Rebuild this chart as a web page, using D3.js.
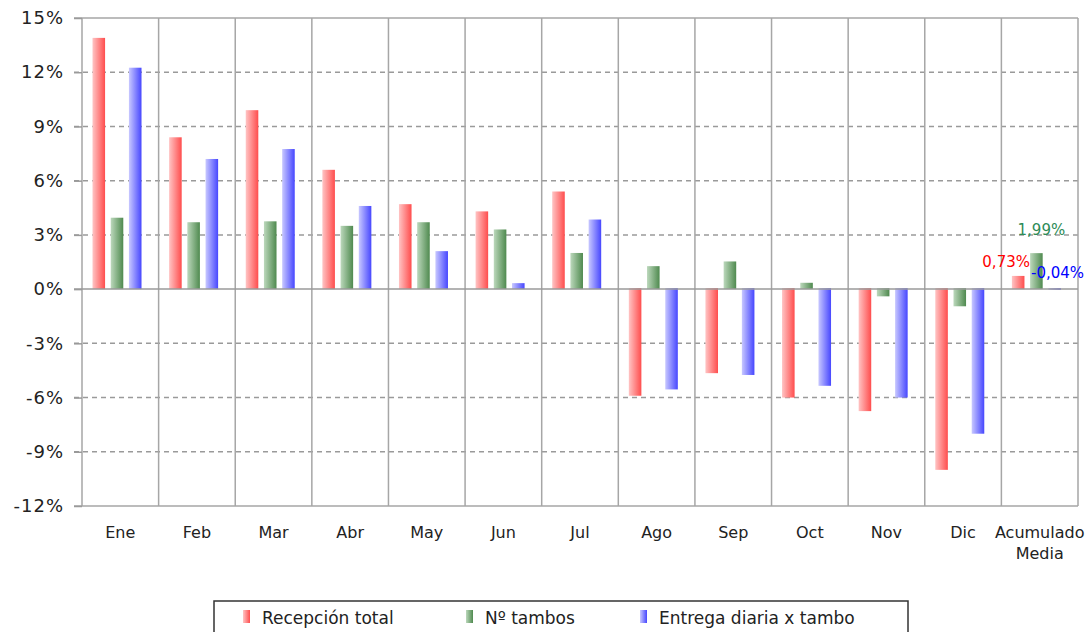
<!DOCTYPE html>
<html lang="es">
  <head>
    <meta charset="utf-8" />
    <script src="https://d3js.org/d3.v7.min.js"></script>
    <style>
      body {
        margin: 0;
        background: #fff;
      }
      text {
        font-family: "DejaVu Sans", Verdana, sans-serif;
        fill: #222;
      }
    </style>
    <title>Variación mensual</title>
  </head>
  <body>
    <svg id="chart" width="1089" height="632"></svg>

    <script>
      // datos (%)
      const months = ["Ene", "Feb", "Mar", "Abr", "May", "Jun", "Jul", "Ago", "Sep", "Oct", "Nov", "Dic", "Acumulado|Media"];
      const series = ["Recepción total", "Nº tambos", "Entrega diaria x tambo"];
      const recepcion = [13.9, 8.4, 9.9, 6.6, 4.7, 4.3, 5.4, -5.9, -4.65, -6.0, -6.75, -10.0, 0.73];
      const tambos = [3.95, 3.7, 3.75, 3.5, 3.7, 3.3, 2.0, 1.27, 1.53, 0.35, -0.4, -0.95, 1.99];
      const entrega = [12.25, 7.2, 7.75, 4.6, 2.1, 0.33, 3.85, -5.55, -4.75, -5.35, -6.0, -8.0, -0.04];
      const yTicks = [-12, -9, -6, -3, 0, 3, 6, 9, 12, 15];
      const acumLabels = ["0,73%", "1,99%", "-0,04%"];

      const colors = [
        { light: "#ffc4c4", dark: "#ff4d4d" },
        { light: "#bcd8bc", dark: "#4f8a4f" },
        { light: "#c8c8ff", dark: "#4747ff" },
      ];
      const labelColors = ["#ff0000", "#2e8b57", "#0000ff"];

      const svg = d3.select("svg#chart");
      const margin = { top: 18, right: 11, bottom: 126, left: 82 };
      const width = 1089;
      const height = 632;

      const values = [recepcion, tambos, entrega];
      const data = months.map((m, i) => ({
        month: m,
        vals: series.map((s, j) => ({ key: s, idx: j, v: values[j][i] })),
      }));

      const x = d3
        .scaleBand()
        .domain(months)
        .range([margin.left, width - margin.right]);

      const x1 = d3
        .scaleBand()
        .domain(series)
        .range([10.5, 59.5])
        .paddingInner(0.31);

      const y = d3
        .scaleLinear()
        .domain([-12, 15])
        .range([height - margin.bottom, margin.top]);

      // gradientes de las barras
      const defs = svg.append("defs");
      colors.forEach((c, i) => {
        const g = defs
          .append("linearGradient")
          .attr("id", "grad" + i)
          .attr("x1", "0%")
          .attr("x2", "100%")
          .attr("y1", "0%")
          .attr("y2", "0%");
        g.append("stop").attr("offset", "0%").attr("stop-color", c.light);
        g.append("stop").attr("offset", "100%").attr("stop-color", c.dark);
      });

      // grilla horizontal punteada
      svg
        .append("g")
        .attr("class", "gridlines")
        .selectAll("line")
        .data(yTicks.filter(d => d !== 0 && d !== -12 && d !== 15))
        .join("line")
        .attr("x1", margin.left - 8)
        .attr("x2", width - margin.right)
        .attr("y1", d => y(d))
        .attr("y2", d => y(d))
        .attr("stroke", "#9a9a9a")
        .attr("stroke-width", 1.5)
        .attr("stroke-dasharray", "5,4");

      // líneas sólidas: arriba, abajo
      svg
        .append("g")
        .selectAll("line")
        .data([15, -12])
        .join("line")
        .attr("x1", margin.left - 8)
        .attr("x2", width - margin.right)
        .attr("y1", d => y(d))
        .attr("y2", d => y(d))
        .attr("stroke", "#a6a6a6")
        .attr("stroke-width", 1.5);

      // líneas verticales entre meses
      const bounds = months.map(m => x(m)).concat([x(months[months.length - 1]) + x.bandwidth()]);
      svg
        .append("g")
        .selectAll("line")
        .data(bounds)
        .join("line")
        .attr("x1", d => d)
        .attr("x2", d => d)
        .attr("y1", y(15))
        .attr("y2", y(-12))
        .attr("stroke", "#a6a6a6")
        .attr("stroke-width", 1.5);

      // eje y
      const yAxis = svg
        .append("g")
        .attr("transform", `translate(${margin.left},0)`)
        .call(
          d3
            .axisLeft(y)
            .tickValues(yTicks)
            .tickSize(8)
            .tickPadding(10)
            .tickFormat(d => d + "%")
        );
      yAxis.select(".domain").remove();
      yAxis.selectAll("line").attr("stroke", "#9a9a9a").attr("stroke-width", 1.5);
      yAxis
        .selectAll("text")
        .style("font-size", "18px")
        .style("letter-spacing", "1px")
        .style("font-family", "'DejaVu Sans', Verdana, sans-serif")
        .attr("fill", "#222");

      // barras
      const groups = svg
        .append("g")
        .selectAll("g")
        .data(data)
        .join("g")
        .attr("transform", d => `translate(${x(d.month)},0)`);

      groups
        .selectAll("rect")
        .data(d => d.vals)
        .join("rect")
        .attr("x", d => x1(d.key))
        .attr("width", x1.bandwidth())
        .attr("y", d => (d.v >= 0 ? y(d.v) : y(0) - 1))
        .attr("height", d => Math.max(1, Math.abs(y(d.v) - y(0)) + (d.v >= 0 ? 0 : 1)))
        .attr("fill", d => `url(#grad${d.idx})`);

      // línea del cero
      svg
        .append("line")
        .attr("x1", margin.left - 8)
        .attr("x2", width - margin.right)
        .attr("y1", y(0))
        .attr("y2", y(0))
        .attr("stroke", "#9a9a9a")
        .attr("stroke-width", 1.5);

      // etiquetas del acumulado
      const last = data[data.length - 1];
      const labelDx = [-12, 5, 3];
      const labelDy = [-9, -18, -11];
      svg
        .append("g")
        .selectAll("text")
        .data(last.vals)
        .join("text")
        .attr("x", (d, i) => x(last.month) + x1(d.key) + x1.bandwidth() / 2 + labelDx[i])
        .attr("y", (d, i) => y(Math.max(d.v, 0)) + labelDy[i])
        .attr("text-anchor", "middle")
        .style("font-size", "15px")
        .style("fill", (d, i) => labelColors[i])
        .text((d, i) => acumLabels[i]);

      // etiquetas del eje x
      const xLabels = svg
        .append("g")
        .selectAll("text")
        .data(months)
        .join("text")
        .attr("x", d => x(d) + x.bandwidth() / 2)
        .attr("y", y(-12) + 32)
        .attr("text-anchor", "middle")
        .style("font-size", "16px");
      xLabels
        .selectAll("tspan")
        .data(d => d.split("|"))
        .join("tspan")
        .attr("x", function () {
          return d3.select(this.parentNode).attr("x");
        })
        .attr("dy", (d, i) => (i === 0 ? 0 : 21))
        .text(d => d);

      // leyenda
      const legend = svg.append("g").attr("transform", "translate(214,601)");
      legend
        .append("rect")
        .attr("width", 694)
        .attr("height", 40)
        .attr("fill", "#fff")
        .attr("stroke", "#333")
        .attr("stroke-width", 1.5);
      const legendX = [29, 252, 426];
      const items = legend
        .selectAll("g")
        .data(series)
        .join("g")
        .attr("transform", (d, i) => `translate(${legendX[i]},0)`);
      items
        .append("rect")
        .attr("y", 9)
        .attr("width", 7)
        .attr("height", 13)
        .attr("fill", (d, i) => `url(#grad${i})`);
      items
        .append("text")
        .attr("x", 19)
        .attr("y", 23)
        .style("font-size", "17px")
        .text(d => d);
    </script>
  </body>
</html>
